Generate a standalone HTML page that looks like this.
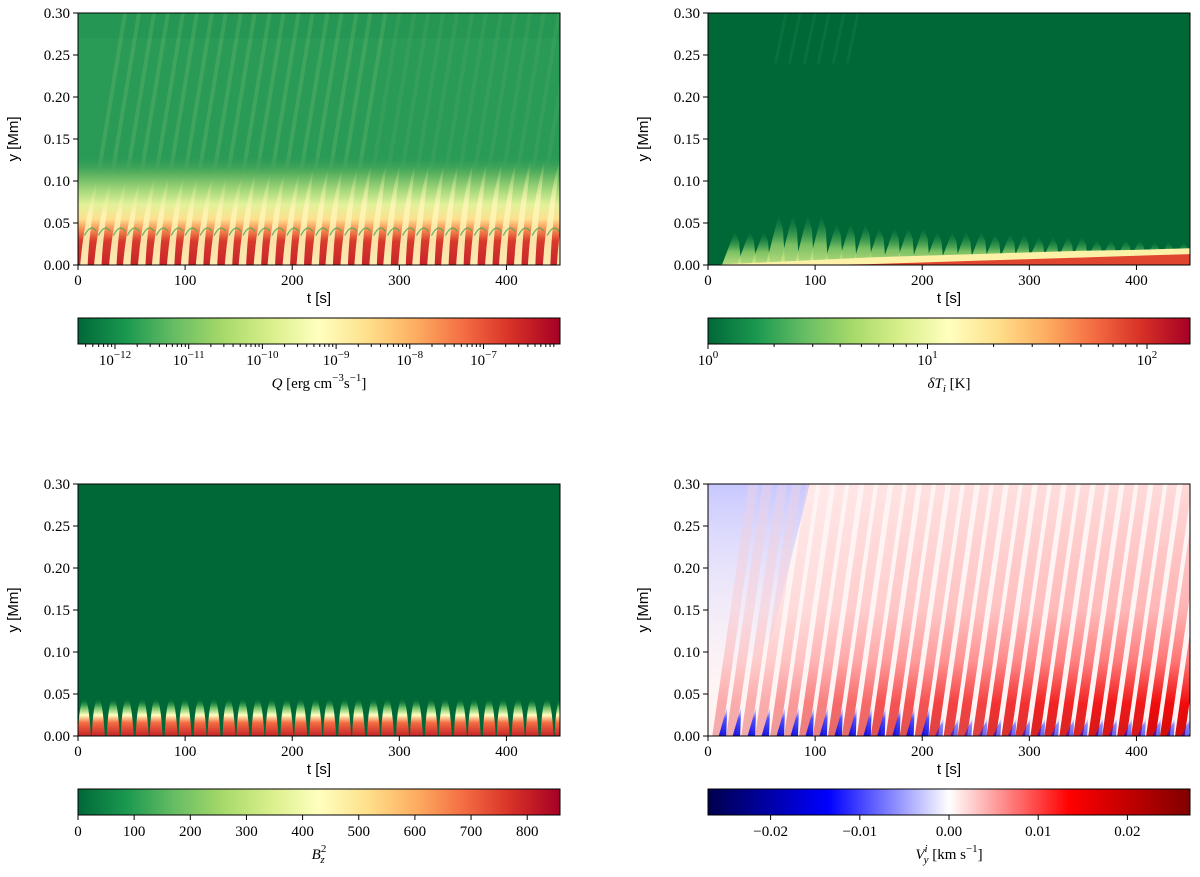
<!DOCTYPE html>
<html><head><meta charset="utf-8"><style>
body{margin:0;background:#fff;width:1200px;height:872px;overflow:hidden}
svg text{font-family:"Liberation Serif",serif;font-size:15px;fill:#000}
.sans{font-family:"Liberation Sans",sans-serif}
</style></head><body>
<svg id="fig" width="1200" height="872" xmlns="http://www.w3.org/2000/svg">
<defs>
<linearGradient id="rdylgn" x1="0" x2="1" y1="0" y2="0">
<stop offset="0" stop-color="#006837"/><stop offset="0.1" stop-color="#1a9850"/><stop offset="0.2" stop-color="#66bd63"/><stop offset="0.3" stop-color="#a6d96a"/><stop offset="0.4" stop-color="#d9ef8b"/><stop offset="0.5" stop-color="#ffffbf"/><stop offset="0.6" stop-color="#fee08b"/><stop offset="0.7" stop-color="#fdae61"/><stop offset="0.8" stop-color="#f46d43"/><stop offset="0.9" stop-color="#d73027"/><stop offset="1" stop-color="#a50026"/>
</linearGradient>
<linearGradient id="seismic" x1="0" x2="1" y1="0" y2="0">
<stop offset="0" stop-color="#00004c"/><stop offset="0.25" stop-color="#0000ff"/><stop offset="0.5" stop-color="#ffffff"/><stop offset="0.75" stop-color="#ff0000"/><stop offset="1" stop-color="#800000"/>
</linearGradient>
<linearGradient id="qbase" x1="0" x2="0" y1="1" y2="0">
<stop offset="0" stop-color="#c8242a"/><stop offset="0.22" stop-color="#d83a2c"/><stop offset="0.32" stop-color="#f68a50"/><stop offset="0.42" stop-color="#fde08f"/><stop offset="0.55" stop-color="#e3f29a"/><stop offset="0.7" stop-color="#9ed478"/><stop offset="0.85" stop-color="#52ad5c"/><stop offset="1" stop-color="#2e9d56" stop-opacity="0"/>
</linearGradient>
<linearGradient id="qstripe" x1="0" x2="0" y1="1" y2="0">
<stop offset="0" stop-color="#fff6b8" stop-opacity="0.95"/><stop offset="0.6" stop-color="#fff6b8" stop-opacity="0.8"/><stop offset="1" stop-color="#d9ef8b" stop-opacity="0"/>
</linearGradient>
<linearGradient id="tbump" x1="0" x2="0" y1="1" y2="0">
<stop offset="0" stop-color="#d9ef8b"/><stop offset="0.4" stop-color="#8fcf6a"/><stop offset="1" stop-color="#1a9850" stop-opacity="0"/>
</linearGradient>
<linearGradient id="bump" x1="0" x2="0" y1="1" y2="0">
<stop offset="0" stop-color="#c62328"/><stop offset="0.35" stop-color="#f46d43"/><stop offset="0.55" stop-color="#ffffbf"/><stop offset="0.75" stop-color="#66bd63"/><stop offset="1" stop-color="#006837" stop-opacity="0"/>
</linearGradient>
<linearGradient id="vstripe" x1="0" x2="0" y1="1" y2="0">
<stop offset="0" stop-color="#d00000"/><stop offset="0.13" stop-color="#f00000"/><stop offset="0.3" stop-color="#ff7070"/><stop offset="0.5" stop-color="#ffb0b0"/><stop offset="1" stop-color="#ffd8d8"/>
</linearGradient>
<linearGradient id="vleft" x1="0" x2="0" y1="0" y2="1">
<stop offset="0" stop-color="#c8c8ff"/><stop offset="1" stop-color="#eeeeff" stop-opacity="0"/>
</linearGradient>
<linearGradient id="vblue" x1="0" x2="0" y1="1" y2="0">
<stop offset="0" stop-color="#0000e0"/><stop offset="0.6" stop-color="#4040ff"/><stop offset="1" stop-color="#c0c0ff" stop-opacity="0.3"/>
</linearGradient>
<clipPath id="c1"><rect x="78" y="13" width="482" height="252"/></clipPath>
<clipPath id="c2"><rect x="708" y="13" width="482" height="252"/></clipPath>
<clipPath id="c3"><rect x="78" y="484" width="482" height="252"/></clipPath>
<clipPath id="c4"><rect x="708" y="484" width="482" height="252"/></clipPath>
</defs>
</svg>
<script>
const tTicks=[0,100,200,300,400];
const yTicks=[0,0.05,0.10,0.15,0.20,0.25,0.30];
const yTickLabels=["0.00","0.05","0.10","0.15","0.20","0.25","0.30"];
const burstTimes=[4,17,31,44,58,71,85,98,112,125,139,152,166,179,193,206,220,233,247,260,274,287,301,314,328,341,355,368,382,395,409,422,436,449];
const qStripeTop=[0.1,0.105,0.105,0.11,0.115,0.12,0.12,0.122,0.125,0.125];
const tempBumpHeight=[0.04,0.06,0.05,0.045,0.04,0.037,0.034,0.03,0.028,0.026];
const tempBand=[0,0.003,0.006,0.009,0.011,0.013,0.015,0.017,0.018,0.02];
const tempRed=[0,0,0,0.001,0.003,0.005,0.007,0.009,0.011,0.013];
const vyStrength=[0.4,0.5,0.6,0.7,0.77,0.84,0.9,0.95,1.0,1.0];
const qCbTicks=[-12,-11,-10,-9,-8,-7];
const tCbTicks=[0,1,2];
const bCbTicks=[0,100,200,300,400,500,600,700,800];
const vCbTicks=[-0.02,-0.01,0,0.01,0.02];
const vCbLabels=["\u22120.02","\u22120.01","0.00","0.01","0.02"];

const NS="http://www.w3.org/2000/svg";
const svg=document.getElementById('fig');
function el(tag,attrs,parent){const e=document.createElementNS(NS,tag);for(const k in attrs)e.setAttribute(k,attrs[k]);(parent||svg).appendChild(e);return e;}
const panels=[{x:78,y:13,clip:'c1'},{x:708,y:13,clip:'c2'},{x:78,y:484,clip:'c3'},{x:708,y:484,clip:'c4'}];
const W=482,H=252;
function sx(p,t){return p.x+t/450*W;}
function sy(p,v){return p.y+H-v/0.3*H;}
function idx(t){return Math.min(9,Math.floor(t/50));}

// Panel 1: Q
(function(){const p=panels[0];const g=el('g',{'clip-path':'url(#'+p.clip+')'});

el('rect',{x:p.x,y:p.y,width:W,height:H,fill:'#2a9a57'},g);
el('rect',{x:p.x,y:sy(p,0.3),width:W,height:sy(p,0.27)-sy(p,0.3),fill:'#1f9150',opacity:0.5},g);
burstTimes.forEach(t=>{
 const u=el('line',{x1:sx(p,t+14),y1:sy(p,0.1),x2:sx(p,t+40),y2:sy(p,0.3),stroke:'#8fd07a','stroke-width':4,opacity:t<250?0.2:0.1},g);
 
});
el('rect',{x:p.x,y:sy(p,0.13),width:W,height:sy(p,0)-sy(p,0.13),fill:'url(#qbase)'},g);
burstTimes.forEach(t=>{const h=qStripeTop[idx(t)];
 const s=el('path',{d:'M'+sx(p,t-2)+','+sy(p,0)+' C'+sx(p,t+2)+','+sy(p,h*0.55)+' '+sx(p,t+10)+','+sy(p,h*0.9)+' '+sx(p,t+14)+','+sy(p,h)+' C'+sx(p,t+10)+','+sy(p,h*0.65)+' '+sx(p,t+6)+','+sy(p,h*0.3)+' '+sx(p,t+5)+','+sy(p,0)+'Z',fill:'url(#qstripe)'},g);
 
 el('path',{d:'M'+sx(p,t+2)+','+sy(p,0.035)+' Q'+sx(p,t+8)+','+sy(p,0.05)+' '+sx(p,t+13)+','+sy(p,0.04),stroke:'#4aa85a','stroke-width':1.3,fill:'none',opacity:0.8},g);
});})();

// Panel 2: dT
(function(){const p=panels[1];const g=el('g',{'clip-path':'url(#'+p.clip+')'});

el('rect',{x:p.x,y:p.y,width:W,height:H,fill:'#006837'},g);
burstTimes.forEach(t=>{if(t<15)return;const h=tempBumpHeight[idx(t)];
 const s=el('path',{d:'M'+sx(p,t-4)+','+sy(p,0)+' L'+sx(p,t+8)+','+sy(p,h)+' L'+sx(p,t+12)+','+sy(p,h*0.7)+' L'+sx(p,t+14)+','+sy(p,0)+'Z',fill:'url(#tbump)',opacity:0.85},g);
 
 if(t>50&&t<135){el('line',{x1:sx(p,t+5),y1:sy(p,0.24),x2:sx(p,t+15),y2:sy(p,0.3),stroke:'#2a8a4a','stroke-width':3,opacity:0.25},g);}
});
let d='M'+sx(p,0)+','+sy(p,0);
tempBand.forEach((v,i)=>{d+=' L'+sx(p,i*50)+','+sy(p,v);});
d+=' L'+sx(p,450)+','+sy(p,0.021)+' L'+sx(p,450)+','+sy(p,0)+'Z';
el('path',{d:d,fill:'#fdf1a8'},g);
let d2='M'+sx(p,0)+','+sy(p,0);
tempRed.forEach((v,i)=>{d2+=' L'+sx(p,i*50)+','+sy(p,v);});
d2+=' L'+sx(p,450)+','+sy(p,0.014)+' L'+sx(p,450)+','+sy(p,0)+'Z';
el('path',{d:d2,fill:'#e0452f'},g);
})();

// Panel 3: Bz^2
(function(){const p=panels[2];const g=el('g',{'clip-path':'url(#'+p.clip+')'});

el('rect',{x:p.x,y:p.y,width:W,height:H,fill:'#006837'},g);
burstTimes.forEach(t=>{
 const b=el('path',{d:'M'+sx(p,t-4)+','+sy(p,0)+' C'+sx(p,t-3)+','+sy(p,0.05)+' '+sx(p,t+5)+','+sy(p,0.07)+' '+sx(p,t+8)+','+sy(p,0)+'Z',fill:'url(#bump)'},g);
 });
})();

// Panel 4: Vy
(function(){const p=panels[3];const g=el('g',{'clip-path':'url(#'+p.clip+')'});

el('rect',{x:p.x,y:p.y,width:W,height:H,fill:'#fff4f4'},g);
el('path',{d:'M'+sx(p,0)+','+sy(p,0.3)+' L'+sx(p,95)+','+sy(p,0.3)+' L'+sx(p,60)+','+sy(p,0.12)+' L'+sx(p,0)+','+sy(p,0.05)+'Z',fill:'url(#vleft)'},g);
burstTimes.forEach(t=>{const k=vyStrength[idx(t)];
 const s=el('path',{d:'M'+sx(p,t)+','+sy(p,0)+' L'+sx(p,t+34)+','+sy(p,0.3)+' L'+sx(p,t+43)+','+sy(p,0.3)+' L'+sx(p,t+9)+','+sy(p,0)+'Z',fill:'url(#vstripe)',opacity:(t<80?0.75:0.95)*k},g);
 
 const b=el('path',{d:'M'+sx(p,t+6)+','+sy(p,0)+' L'+sx(p,t+14)+','+sy(p,t<200?0.035:0.022)+' L'+sx(p,t+13)+','+sy(p,0)+'Z',fill:'url(#vblue)',opacity:t<200?0.9:0.6},g);
 });
})();

// Axes
panels.forEach((p,i)=>{
 const a=el('g',{});
 el('rect',{x:p.x,y:p.y,width:W,height:H,fill:'none',stroke:'#000','stroke-width':1},a);
 tTicks.forEach(t=>{const x=sx(p,t);el('line',{x1:x,y1:p.y+H,x2:x,y2:p.y+H+5,stroke:'#000'},a);
  const tx=el('text',{x:x,y:p.y+H+20,'text-anchor':'middle'},a);tx.textContent=t;
  });
 yTicks.forEach((v,j)=>{const y=sy(p,v);el('line',{x1:p.x-5,y1:y,x2:p.x,y2:y,stroke:'#000'},a);
  const tx=el('text',{x:p.x-8,y:y+5,'text-anchor':'end'},a);tx.textContent=yTickLabels[j];
  });
 const xl=el('text',{x:p.x+W/2,y:p.y+H+38,'text-anchor':'middle',class:'sans'},a);xl.textContent='t [s]';
 
 const yl=el('text',{x:0,y:0,'text-anchor':'middle',class:'sans',transform:'translate('+(p.x-60)+','+(p.y+H/2)+') rotate(-90)'},a);yl.textContent='y [Mm]';
 
});

// Colorbars
function colorbar(p,fill,name,ticks,labels,pos,title,minor){
 const cy=p.y+H+53;const g=el('g',{});
 el('rect',{x:p.x,y:cy,width:W,height:26,fill:fill,stroke:'#000','stroke-width':1},g);
 if(minor)minor.forEach(x=>el('line',{x1:x,y1:cy+26,x2:x,y2:cy+29,stroke:'#000'},g));
 ticks.forEach((v,i)=>{const x=pos(v);el('line',{x1:x,y1:cy+26,x2:x,y2:cy+31,stroke:'#000'},g);
  const t=el('text',{x:x,y:cy+47,'text-anchor':'middle'},g);t.innerHTML=labels[i];
  });
 const tt=el('text',{x:p.x+W/2,y:cy+70,'text-anchor':'middle'},g);tt.innerHTML=title;
 
}
const qpos=v=>115+(v+12)*73.7;
const qminor=[];for(let d=-13;d<=-7;d++)for(let m=2;m<10;m++){const x=qpos(d+Math.log10(m));if(x>78&&x<560)qminor.push(x);}
colorbar(panels[0],'url(#rdylgn)','q-colorbar',qCbTicks,qCbTicks.map(v=>'10<tspan dy="-7" font-size="11">\u2212'+(-v)+'</tspan>'),qpos,'<tspan font-style="italic">Q</tspan> [erg cm<tspan dy="-7" font-size="11">\u22123</tspan><tspan dy="7">s</tspan><tspan dy="-7" font-size="11">\u22121</tspan><tspan dy="7">]</tspan>',qminor);
const tpos=v=>708+v*219.5;
const tminor=[];for(let d=0;d<=2;d++)for(let m=2;m<10;m++){const x=tpos(d+Math.log10(m));if(x<1190)tminor.push(x);}
colorbar(panels[1],'url(#rdylgn)','dt-colorbar',tCbTicks,tCbTicks.map(v=>'10<tspan dy="-7" font-size="11">'+v+'</tspan>'),tpos,'<tspan font-style="italic">\u03b4T<tspan dy="4" font-size="11">i</tspan></tspan><tspan dy="-4"> [K]</tspan>',tminor);
colorbar(panels[2],'url(#rdylgn)','bz2-colorbar',bCbTicks,bCbTicks.map(String),v=>78+v*0.5615,'<tspan font-style="italic">B</tspan><tspan dy="-7" font-size="11">2</tspan><tspan dx="-6" dy="11" font-size="11" font-style="italic">z</tspan>');
colorbar(panels[3],'url(#seismic)','vy-colorbar',vCbTicks,vCbLabels,v=>949+v*8920,'<tspan font-style="italic">V</tspan><tspan dy="-7" font-size="11" font-style="italic">i</tspan><tspan dx="-4" dy="11" font-size="11" font-style="italic">y</tspan><tspan dy="-4"> [km s</tspan><tspan dy="-7" font-size="11">\u22121</tspan><tspan dy="7">]</tspan>');
</script>
</body></html>
